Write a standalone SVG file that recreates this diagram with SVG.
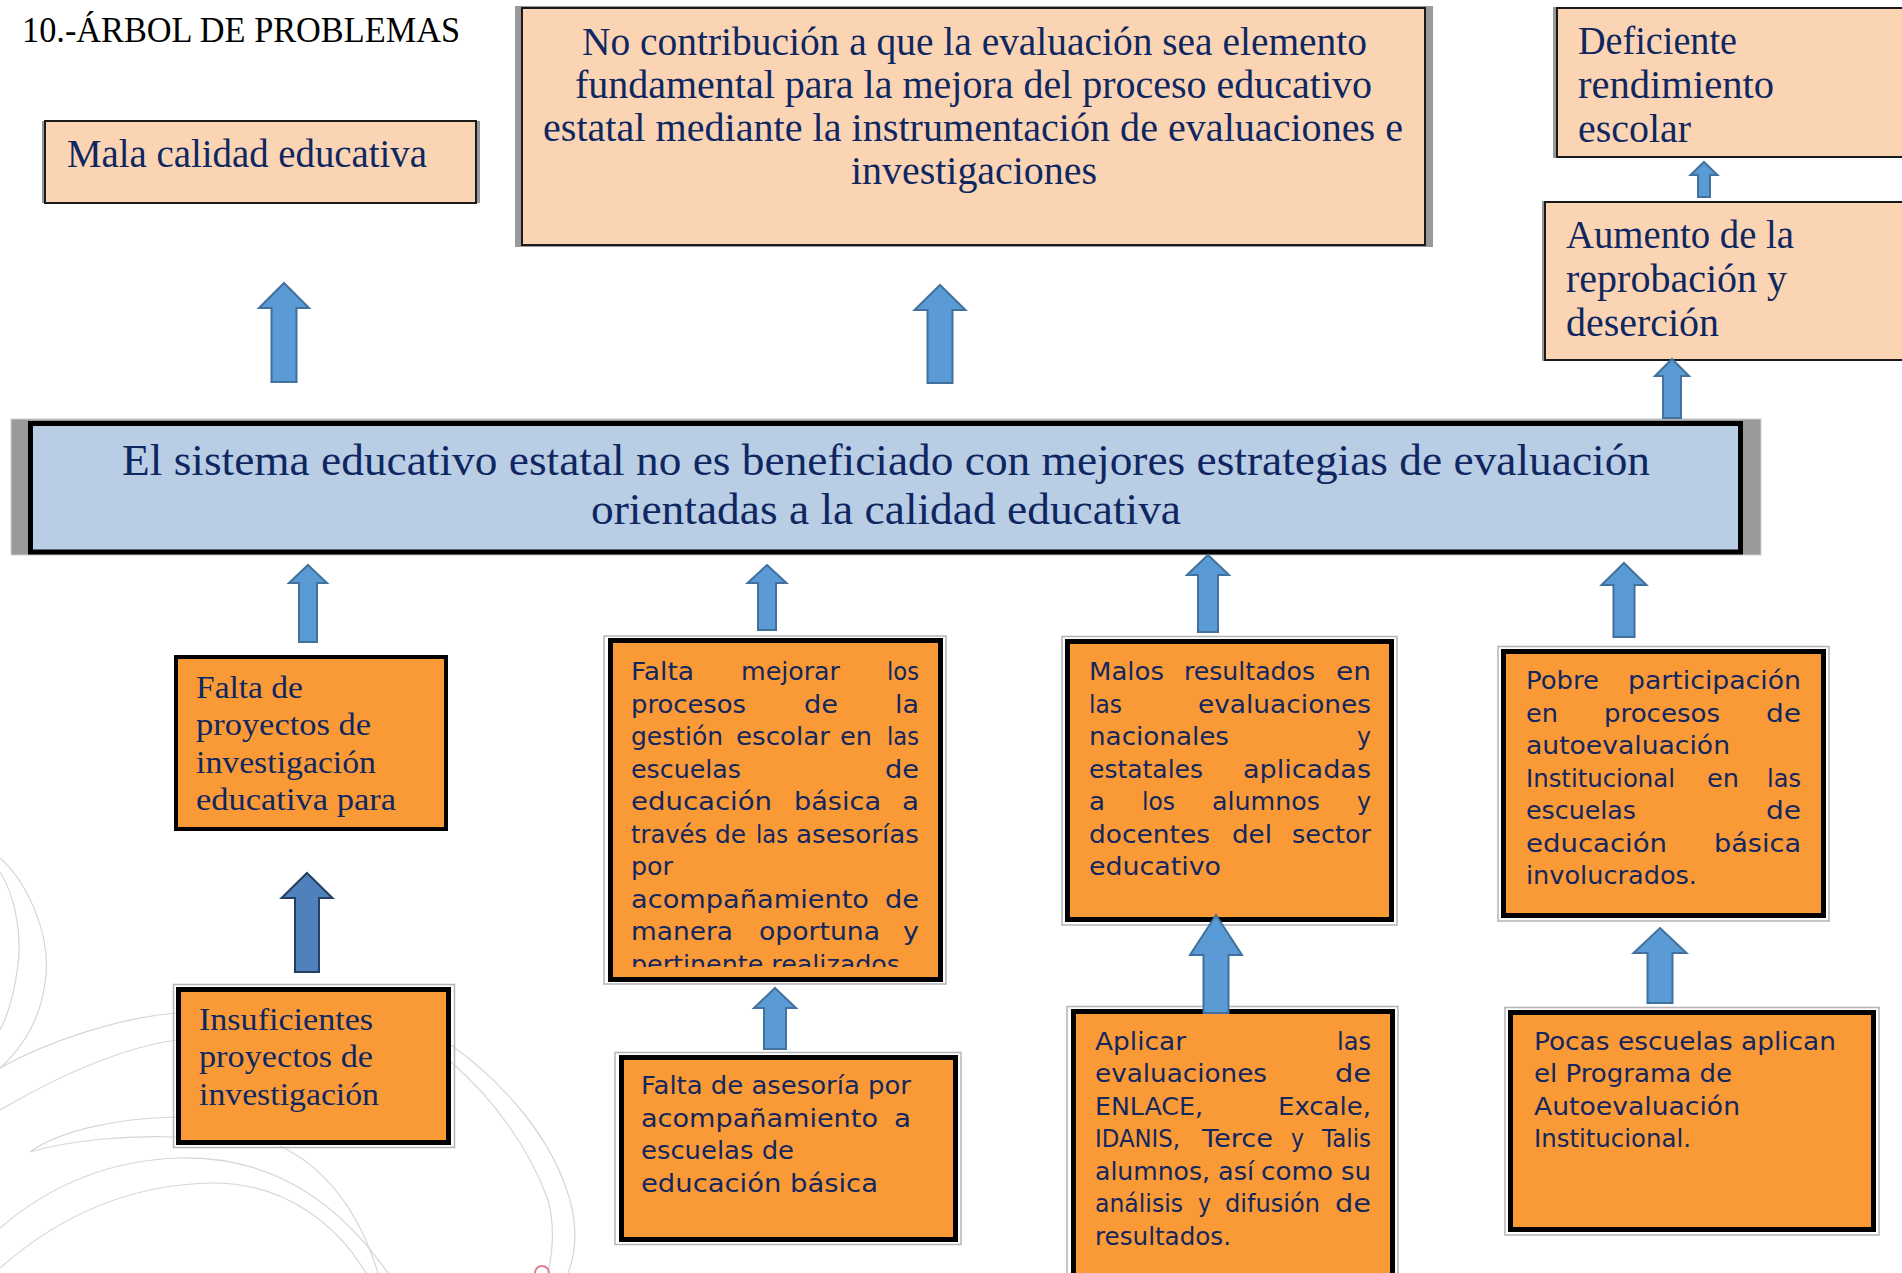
<svg xmlns="http://www.w3.org/2000/svg" width="1902" height="1273" viewBox="0 0 1902 1273">
<style>
.ser{font-family:"Liberation Serif","Times New Roman",serif;fill:#0f2761}
.title{font-family:"Liberation Serif","Times New Roman",serif;font-size:36px;fill:#000}
.main{font-size:45px}
.pe{font-size:39px}
.s30{font-size:31px}
.sans{font-family:"DejaVu Sans","Liberation Sans",sans-serif;font-size:25px;fill:#14265e}
.shade{fill:#999999}
.peach{fill:#fbd4b4;stroke:#1a1a1a;stroke-width:2}
.blue{fill:#b9cde5;stroke:#000;stroke-width:5}
.orange{fill:#f99a36;stroke:#000;stroke-width:5}
.halo{fill:none;stroke:#b4b4b4;stroke-width:1.5}
.arrow{fill:#5b9bd5;stroke:#41719c;stroke-width:2;stroke-linejoin:miter}
.arrowdark{fill:#4f81bd;stroke:#243f60;stroke-width:2}
.deco{fill:none;stroke:#d6d6d6;stroke-width:1.2}
</style>
<defs>
<clipPath id="clipFM"><rect x="612" y="642" width="328" height="325"/></clipPath>
</defs>
<rect width="1902" height="1273" fill="#fff"/>

<g id="decoration">
<path class="deco" d="M0,858 C25,880 50,930 46,975 C42,1020 20,1050 0,1068"/>
<path class="deco" d="M0,872 C15,895 22,935 18,965 C14,995 8,1015 0,1030"/>
<path class="deco" d="M0,1068 C50,1040 120,1018 176,1013"/>
<path class="deco" d="M0,1110 C60,1075 120,1048 176,1040"/>
<path class="deco" d="M176,1117 C120,1118 60,1130 30,1152 C70,1140 130,1135 176,1137"/>
<path class="deco" d="M0,1228 C50,1185 110,1160 180,1158 C260,1156 330,1190 388,1273"/>
<path class="deco" d="M0,1268 C60,1215 130,1185 210,1183 C290,1182 340,1230 366,1273"/>
<path class="deco" d="M451,1045 C500,1080 545,1130 565,1185 C580,1225 575,1255 568,1273"/>
<path class="deco" d="M451,1062 C495,1100 530,1150 548,1200 C556,1230 552,1255 548,1273"/>
<path class="deco" d="M280,1146 C330,1170 360,1215 378,1273"/>
<path d="M535,1273 A7,7 0 0 1 549,1273" fill="none" stroke="#e07f93" stroke-width="2"/>
</g>

<g id="title">
<text class="title" x="22" y="42" textLength="438" lengthAdjust="spacingAndGlyphs">10.-ÁRBOL DE PROBLEMAS</text>
</g>

<g id="node-mala">
<rect class="shade" x="42" y="121" width="438" height="82"/>
<rect class="peach" x="45" y="121" width="431" height="82"/>
<text class="ser pe" x="67" y="167" textLength="360" lengthAdjust="spacingAndGlyphs">Mala calidad educativa</text>
</g>

<g id="node-nocontribucion">
<rect class="shade" x="515" y="6" width="918" height="241"/>
<rect class="peach" x="522" y="8" width="903" height="237"/>
<text class="ser pe" x="582" y="55" textLength="785" lengthAdjust="spacingAndGlyphs">No contribución a que la evaluación sea elemento</text>
<text class="ser pe" x="575" y="98" textLength="797" lengthAdjust="spacingAndGlyphs">fundamental para la mejora del proceso educativo</text>
<text class="ser pe" x="543" y="141" textLength="860" lengthAdjust="spacingAndGlyphs">estatal mediante la instrumentación de evaluaciones e</text>
<text class="ser pe" x="851" y="184" textLength="246" lengthAdjust="spacingAndGlyphs">investigaciones</text>
</g>

<g id="node-deficiente">
<rect class="shade" x="1553" y="7" width="360" height="151"/>
<rect class="peach" x="1557" y="8" width="360" height="149"/>
<text class="ser pe" x="1578" y="54" textLength="159" lengthAdjust="spacingAndGlyphs">Deficiente</text>
<text class="ser pe" x="1578" y="98" textLength="196" lengthAdjust="spacingAndGlyphs">rendimiento</text>
<text class="ser pe" x="1578" y="142" textLength="113" lengthAdjust="spacingAndGlyphs">escolar</text>
</g>

<g id="node-aumento">
<rect class="shade" x="1542" y="201" width="370" height="160"/>
<rect class="peach" x="1545" y="202" width="370" height="158"/>
<text class="ser pe" x="1566" y="248" textLength="228" lengthAdjust="spacingAndGlyphs">Aumento de la</text>
<text class="ser pe" x="1566" y="292" textLength="221" lengthAdjust="spacingAndGlyphs">reprobación y</text>
<text class="ser pe" x="1566" y="336" textLength="153" lengthAdjust="spacingAndGlyphs">deserción</text>
</g>

<g id="node-central">
<rect x="11" y="419" width="1750" height="136" fill="#9a9a9a" stroke="#d0d0d0" stroke-width="1"/>
<rect class="blue" x="30.5" y="423.5" width="1710" height="128.5"/>
<text class="ser main" x="122" y="475" textLength="1528" lengthAdjust="spacingAndGlyphs">El sistema educativo estatal no es beneficiado con mejores estrategias de evaluación</text>
<text class="ser main" x="591" y="524" textLength="590" lengthAdjust="spacingAndGlyphs">orientadas a la calidad educativa</text>
</g>

<g id="node-faltaproyectos">
<rect x="176" y="657" width="270" height="172" fill="#f99a36" stroke="#000" stroke-width="4"/>
<text class="ser s30" x="196" y="698" textLength="107" lengthAdjust="spacingAndGlyphs">Falta de</text>
<text class="ser s30" x="196" y="735" textLength="175" lengthAdjust="spacingAndGlyphs">proyectos de</text>
<text class="ser s30" x="196" y="773" textLength="180" lengthAdjust="spacingAndGlyphs">investigación</text>
<text class="ser s30" x="196" y="810" textLength="200" lengthAdjust="spacingAndGlyphs">educativa para</text>
</g>

<g id="node-insuficientes">
<rect class="halo" x="173.5" y="984.5" width="281" height="163"/>
<rect class="orange" x="178.5" y="989.5" width="270" height="153"/>
<text class="ser s30" x="199" y="1030" textLength="174" lengthAdjust="spacingAndGlyphs">Insuficientes</text>
<text class="ser s30" x="199" y="1067" textLength="174" lengthAdjust="spacingAndGlyphs">proyectos de</text>
<text class="ser s30" x="199" y="1105" textLength="180" lengthAdjust="spacingAndGlyphs">investigación</text>
</g>

<g id="node-faltamejorar">
<rect class="halo" x="604" y="636" width="342" height="348"/>
<rect class="orange" x="610.5" y="640.5" width="330" height="339"/>
<g clip-path="url(#clipFM)">
<text class="sans" x="631" y="680" textLength="63" lengthAdjust="spacingAndGlyphs">Falta</text>
<text class="sans" x="741" y="680" textLength="99" lengthAdjust="spacingAndGlyphs">mejorar</text>
<text class="sans" x="887" y="680" textLength="32" lengthAdjust="spacingAndGlyphs">los</text>
<text class="sans" x="631" y="713" textLength="115" lengthAdjust="spacingAndGlyphs">procesos</text>
<text class="sans" x="804" y="713" textLength="34" lengthAdjust="spacingAndGlyphs">de</text>
<text class="sans" x="895" y="713" textLength="24" lengthAdjust="spacingAndGlyphs">la</text>
<text class="sans" x="631" y="745" textLength="92" lengthAdjust="spacingAndGlyphs">gestión</text>
<text class="sans" x="736" y="745" textLength="94" lengthAdjust="spacingAndGlyphs">escolar</text>
<text class="sans" x="840" y="745" textLength="32" lengthAdjust="spacingAndGlyphs">en</text>
<text class="sans" x="887" y="745" textLength="32" lengthAdjust="spacingAndGlyphs">las</text>
<text class="sans" x="631" y="778" textLength="110" lengthAdjust="spacingAndGlyphs">escuelas</text>
<text class="sans" x="885" y="778" textLength="34" lengthAdjust="spacingAndGlyphs">de</text>
<text class="sans" x="631" y="810" textLength="141" lengthAdjust="spacingAndGlyphs">educación</text>
<text class="sans" x="794" y="810" textLength="87" lengthAdjust="spacingAndGlyphs">básica</text>
<text class="sans" x="902" y="810" textLength="17" lengthAdjust="spacingAndGlyphs">a</text>
<text class="sans" x="631" y="843" textLength="76" lengthAdjust="spacingAndGlyphs">través</text>
<text class="sans" x="715" y="843" textLength="31" lengthAdjust="spacingAndGlyphs">de</text>
<text class="sans" x="756" y="843" textLength="32" lengthAdjust="spacingAndGlyphs">las</text>
<text class="sans" x="796" y="843" textLength="123" lengthAdjust="spacingAndGlyphs">asesorías</text>
<text class="sans" x="631" y="875" textLength="42" lengthAdjust="spacingAndGlyphs">por</text>
<text class="sans" x="631" y="908" textLength="238" lengthAdjust="spacingAndGlyphs">acompañamiento</text>
<text class="sans" x="885" y="908" textLength="34" lengthAdjust="spacingAndGlyphs">de</text>
<text class="sans" x="631" y="940" textLength="102" lengthAdjust="spacingAndGlyphs">manera</text>
<text class="sans" x="759" y="940" textLength="121" lengthAdjust="spacingAndGlyphs">oportuna</text>
<text class="sans" x="903" y="940" textLength="16" lengthAdjust="spacingAndGlyphs">y</text>
<text class="sans" x="631" y="973" textLength="269" lengthAdjust="spacingAndGlyphs">pertinente realizados</text>
</g>
</g>

<g id="node-asesoria">
<rect class="halo" x="615" y="1052.5" width="346" height="192"/>
<rect class="orange" x="621.5" y="1057.5" width="334" height="182"/>
<text class="sans" x="641" y="1094" textLength="270" lengthAdjust="spacingAndGlyphs">Falta de asesoría por</text>
<text class="sans" x="641" y="1127" textLength="237" lengthAdjust="spacingAndGlyphs">acompañamiento</text>
<text class="sans" x="894" y="1127" textLength="17" lengthAdjust="spacingAndGlyphs">a</text>
<text class="sans" x="641" y="1159" textLength="153" lengthAdjust="spacingAndGlyphs">escuelas de</text>
<text class="sans" x="641" y="1192" textLength="237" lengthAdjust="spacingAndGlyphs">educación básica</text>
</g>

<g id="node-malos">
<rect class="halo" x="1062" y="636.5" width="335" height="288.5"/>
<rect class="orange" x="1067.5" y="641.5" width="324" height="278"/>
<text class="sans" x="1089" y="680" textLength="75" lengthAdjust="spacingAndGlyphs">Malos</text>
<text class="sans" x="1184" y="680" textLength="131" lengthAdjust="spacingAndGlyphs">resultados</text>
<text class="sans" x="1336" y="680" textLength="35" lengthAdjust="spacingAndGlyphs">en</text>
<text class="sans" x="1089" y="713" textLength="33" lengthAdjust="spacingAndGlyphs">las</text>
<text class="sans" x="1198" y="713" textLength="173" lengthAdjust="spacingAndGlyphs">evaluaciones</text>
<text class="sans" x="1089" y="745" textLength="140" lengthAdjust="spacingAndGlyphs">nacionales</text>
<text class="sans" x="1357" y="745" textLength="14" lengthAdjust="spacingAndGlyphs">y</text>
<text class="sans" x="1089" y="778" textLength="114" lengthAdjust="spacingAndGlyphs">estatales</text>
<text class="sans" x="1243" y="778" textLength="128" lengthAdjust="spacingAndGlyphs">aplicadas</text>
<text class="sans" x="1089" y="810" textLength="16" lengthAdjust="spacingAndGlyphs">a</text>
<text class="sans" x="1142" y="810" textLength="33" lengthAdjust="spacingAndGlyphs">los</text>
<text class="sans" x="1212" y="810" textLength="108" lengthAdjust="spacingAndGlyphs">alumnos</text>
<text class="sans" x="1357" y="810" textLength="14" lengthAdjust="spacingAndGlyphs">y</text>
<text class="sans" x="1089" y="843" textLength="121" lengthAdjust="spacingAndGlyphs">docentes</text>
<text class="sans" x="1232" y="843" textLength="40" lengthAdjust="spacingAndGlyphs">del</text>
<text class="sans" x="1292" y="843" textLength="79" lengthAdjust="spacingAndGlyphs">sector</text>
<text class="sans" x="1089" y="875" textLength="132" lengthAdjust="spacingAndGlyphs">educativo</text>
</g>

<g id="node-pobre">
<rect class="halo" x="1498" y="646.5" width="331" height="274.5"/>
<rect class="orange" x="1503.5" y="651.5" width="320" height="264"/>
<text class="sans" x="1526" y="689" textLength="73" lengthAdjust="spacingAndGlyphs">Pobre</text>
<text class="sans" x="1628" y="689" textLength="173" lengthAdjust="spacingAndGlyphs">participación</text>
<text class="sans" x="1526" y="722" textLength="32" lengthAdjust="spacingAndGlyphs">en</text>
<text class="sans" x="1604" y="722" textLength="116" lengthAdjust="spacingAndGlyphs">procesos</text>
<text class="sans" x="1766" y="722" textLength="35" lengthAdjust="spacingAndGlyphs">de</text>
<text class="sans" x="1526" y="754" textLength="204" lengthAdjust="spacingAndGlyphs">autoevaluación</text>
<text class="sans" x="1526" y="787" textLength="149" lengthAdjust="spacingAndGlyphs">Institucional</text>
<text class="sans" x="1707" y="787" textLength="32" lengthAdjust="spacingAndGlyphs">en</text>
<text class="sans" x="1767" y="787" textLength="34" lengthAdjust="spacingAndGlyphs">las</text>
<text class="sans" x="1526" y="819" textLength="110" lengthAdjust="spacingAndGlyphs">escuelas</text>
<text class="sans" x="1766" y="819" textLength="35" lengthAdjust="spacingAndGlyphs">de</text>
<text class="sans" x="1526" y="852" textLength="141" lengthAdjust="spacingAndGlyphs">educación</text>
<text class="sans" x="1714" y="852" textLength="87" lengthAdjust="spacingAndGlyphs">básica</text>
<text class="sans" x="1526" y="884" textLength="171" lengthAdjust="spacingAndGlyphs">involucrados.</text>
</g>

<g id="node-aplicar">
<rect class="halo" x="1067" y="1006.5" width="331" height="290"/>
<rect class="orange" x="1073.5" y="1011.5" width="319" height="280"/>
<text class="sans" x="1095" y="1050" textLength="91" lengthAdjust="spacingAndGlyphs">Aplicar</text>
<text class="sans" x="1337" y="1050" textLength="34" lengthAdjust="spacingAndGlyphs">las</text>
<text class="sans" x="1095" y="1082" textLength="172" lengthAdjust="spacingAndGlyphs">evaluaciones</text>
<text class="sans" x="1335" y="1082" textLength="36" lengthAdjust="spacingAndGlyphs">de</text>
<text class="sans" x="1095" y="1115" textLength="108" lengthAdjust="spacingAndGlyphs">ENLACE,</text>
<text class="sans" x="1278" y="1115" textLength="93" lengthAdjust="spacingAndGlyphs">Excale,</text>
<text class="sans" x="1095" y="1147" textLength="85" lengthAdjust="spacingAndGlyphs">IDANIS,</text>
<text class="sans" x="1202" y="1147" textLength="71" lengthAdjust="spacingAndGlyphs">Terce</text>
<text class="sans" x="1291" y="1147" textLength="13" lengthAdjust="spacingAndGlyphs">y</text>
<text class="sans" x="1322" y="1147" textLength="49" lengthAdjust="spacingAndGlyphs">Talis</text>
<text class="sans" x="1095" y="1180" textLength="115" lengthAdjust="spacingAndGlyphs">alumnos,</text>
<text class="sans" x="1218" y="1180" textLength="36" lengthAdjust="spacingAndGlyphs">así</text>
<text class="sans" x="1261" y="1180" textLength="72" lengthAdjust="spacingAndGlyphs">como</text>
<text class="sans" x="1341" y="1180" textLength="30" lengthAdjust="spacingAndGlyphs">su</text>
<text class="sans" x="1095" y="1212" textLength="88" lengthAdjust="spacingAndGlyphs">análisis</text>
<text class="sans" x="1198" y="1212" textLength="13" lengthAdjust="spacingAndGlyphs">y</text>
<text class="sans" x="1225" y="1212" textLength="95" lengthAdjust="spacingAndGlyphs">difusión</text>
<text class="sans" x="1335" y="1212" textLength="36" lengthAdjust="spacingAndGlyphs">de</text>
<text class="sans" x="1095" y="1245" textLength="136" lengthAdjust="spacingAndGlyphs">resultados.</text>
</g>

<g id="node-pocas">
<rect class="halo" x="1505" y="1007.5" width="374" height="227.5"/>
<rect class="orange" x="1510.5" y="1012.5" width="363" height="217"/>
<text class="sans" x="1534" y="1050" textLength="302" lengthAdjust="spacingAndGlyphs">Pocas escuelas aplican</text>
<text class="sans" x="1534" y="1082" textLength="198" lengthAdjust="spacingAndGlyphs">el Programa de</text>
<text class="sans" x="1534" y="1115" textLength="206" lengthAdjust="spacingAndGlyphs">Autoevaluación</text>
<text class="sans" x="1534" y="1147" textLength="157" lengthAdjust="spacingAndGlyphs">Institucional.</text>
</g>

<g id="connectors">
<polygon class="arrow" points="284,283 309,308 296.5,308 296.5,382 271.5,382 271.5,308 259,308"/>
<polygon class="arrow" points="940,285 965.5,310 952.5,310 952.5,383 927.5,383 927.5,310 914.5,310"/>
<polygon class="arrow" points="1704,162 1717.5,175 1710,175 1710,197 1698,197 1698,175 1690.5,175"/>
<polygon class="arrow" points="1672,359 1689,376 1681,376 1681,418 1663,418 1663,376 1655,376"/>
<polygon class="arrow" points="308,565 327,583 317,583 317,642 299,642 299,583 289,583"/>
<polygon class="arrow" points="767,565 786.5,583 776,583 776,630 758,630 758,583 747.5,583"/>
<polygon class="arrow" points="1208,555 1229,575 1218,575 1218,632 1198,632 1198,575 1187,575"/>
<polygon class="arrow" points="1624,563 1646.5,585 1634.5,585 1634.5,637 1613.5,637 1613.5,585 1601.5,585"/>
<polygon class="arrowdark" points="307,873 332.5,898 319,898 319,972 295,972 295,898 281.5,898"/>
<polygon class="arrow" points="775,988 796,1008 786,1008 786,1049 764,1049 764,1008 754,1008"/>
<polygon class="arrow" points="1216,915 1242,955 1228.5,955 1228.5,1013 1203.5,1013 1203.5,955 1190,955"/>
<polygon class="arrow" points="1660,928 1686.5,953 1672.5,953 1672.5,1003 1647.5,1003 1647.5,953 1633.5,953"/>
</g>
</svg>
